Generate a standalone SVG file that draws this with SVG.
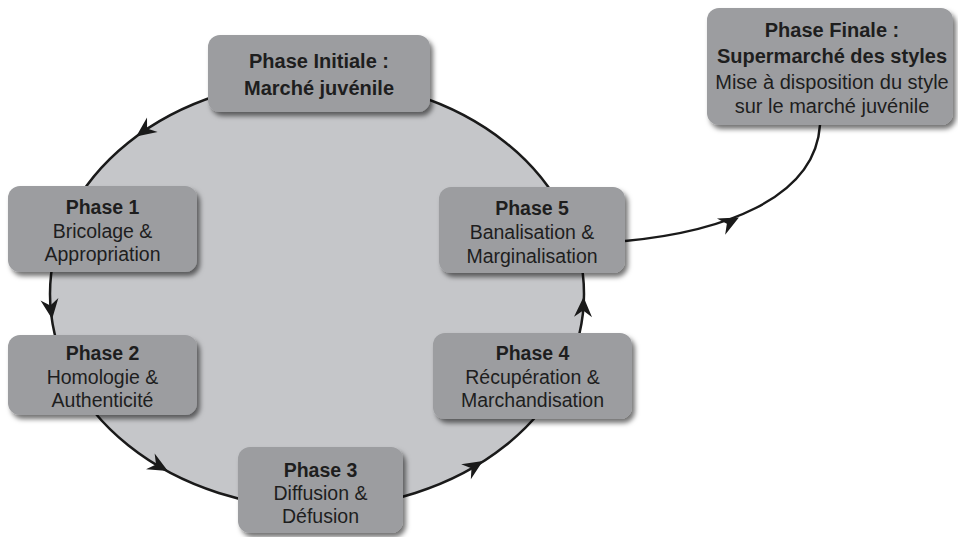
<svg xmlns="http://www.w3.org/2000/svg" xmlns:xlink="http://www.w3.org/1999/xlink" width="958" height="537" viewBox="0 0 958 537">
<style>
.box{fill:#9c9da0;filter:url(#sh);}
.t{font-family:"Liberation Sans",Arial,sans-serif;fill:#1e1e1e;text-anchor:middle;}
.b{font-weight:bold;}
.p{font-size:19.5px;}
.f{font-size:20px;}
.ln{fill:none;stroke:#1a1a1a;stroke-width:2.5;}
.ah{fill:#1a1a1a;}
</style>
<defs>
<filter id="sh" x="-10%" y="-10%" width="125%" height="130%">
<feDropShadow dx="3" dy="4" stdDeviation="2.5" flood-color="#000" flood-opacity="0.55"/>
</filter>
<path id="ah" d="M1,0 L-19,-9 L-12.5,0 L-19,9 Z"/>
</defs>
<rect width="958" height="537" fill="#fff"/>
<g id="connectors">
<ellipse cx="317" cy="294" rx="267" ry="214" fill="#c5c6c9" stroke="#1a1a1a" stroke-width="2.5"/>
<path class="ln" d="M625,241 C720,232 815,200 820,125"/>
<use xlink:href="#ah" class="ah" transform="translate(137,136) rotate(143.8)"/>
<use xlink:href="#ah" class="ah" transform="translate(52,318) rotate(82.3)"/>
<use xlink:href="#ah" class="ah" transform="translate(167,470.5) rotate(28.7)"/>
<use xlink:href="#ah" class="ah" transform="translate(482,461.5) rotate(-32.6)"/>
<use xlink:href="#ah" class="ah" transform="translate(583.5,298) rotate(-88.6)"/>
<use xlink:href="#ah" class="ah" transform="translate(738,218) rotate(-27)"/>
</g>
<g id="initial">
<rect class="box" x="208" y="35" width="222" height="77" rx="12"/>
<text class="t b f" x="319" y="68">Phase Initiale :</text>
<text class="t b f" x="319" y="95">Marché juvénile</text>
</g>
<g id="phase1">
<rect class="box" x="8" y="186" width="189" height="86" rx="12"/>
<text class="t b p" x="102.5" y="214">Phase 1</text>
<text class="t p" x="102.5" y="238">Bricolage &amp;</text>
<text class="t p" x="102.5" y="261">Appropriation</text>
</g>
<g id="phase2">
<rect class="box" x="8" y="335" width="189" height="80" rx="12"/>
<text class="t b p" x="102.5" y="360">Phase 2</text>
<text class="t p" x="102.5" y="384">Homologie &amp;</text>
<text class="t p" x="102.5" y="407">Authenticité</text>
</g>
<g id="phase3">
<rect class="box" x="238" y="447" width="165" height="86" rx="12"/>
<text class="t b p" x="320.5" y="477">Phase 3</text>
<text class="t p" x="320.5" y="500">Diffusion &amp;</text>
<text class="t p" x="320.5" y="523">Défusion</text>
</g>
<g id="phase4">
<rect class="box" x="433" y="333" width="199" height="86" rx="12"/>
<text class="t b p" x="532.5" y="360">Phase 4</text>
<text class="t p" x="532.5" y="384">Récupération &amp;</text>
<text class="t p" x="532.5" y="407">Marchandisation</text>
</g>
<g id="phase5">
<rect class="box" x="439" y="187" width="186" height="86" rx="12"/>
<text class="t b p" x="532" y="215">Phase 5</text>
<text class="t p" x="532" y="239">Banalisation &amp;</text>
<text class="t p" x="532" y="263">Marginalisation</text>
</g>
<g id="finale">
<rect class="box" x="707" y="8" width="246" height="117" rx="12"/>
<text class="t b f" x="832" y="37">Phase Finale :</text>
<text class="t b f" x="832" y="63">Supermarché des styles</text>
<text class="t f" x="832" y="89">Mise à disposition du style</text>
<text class="t f" x="832" y="113">sur le marché juvénile</text>
</g>
</svg>
